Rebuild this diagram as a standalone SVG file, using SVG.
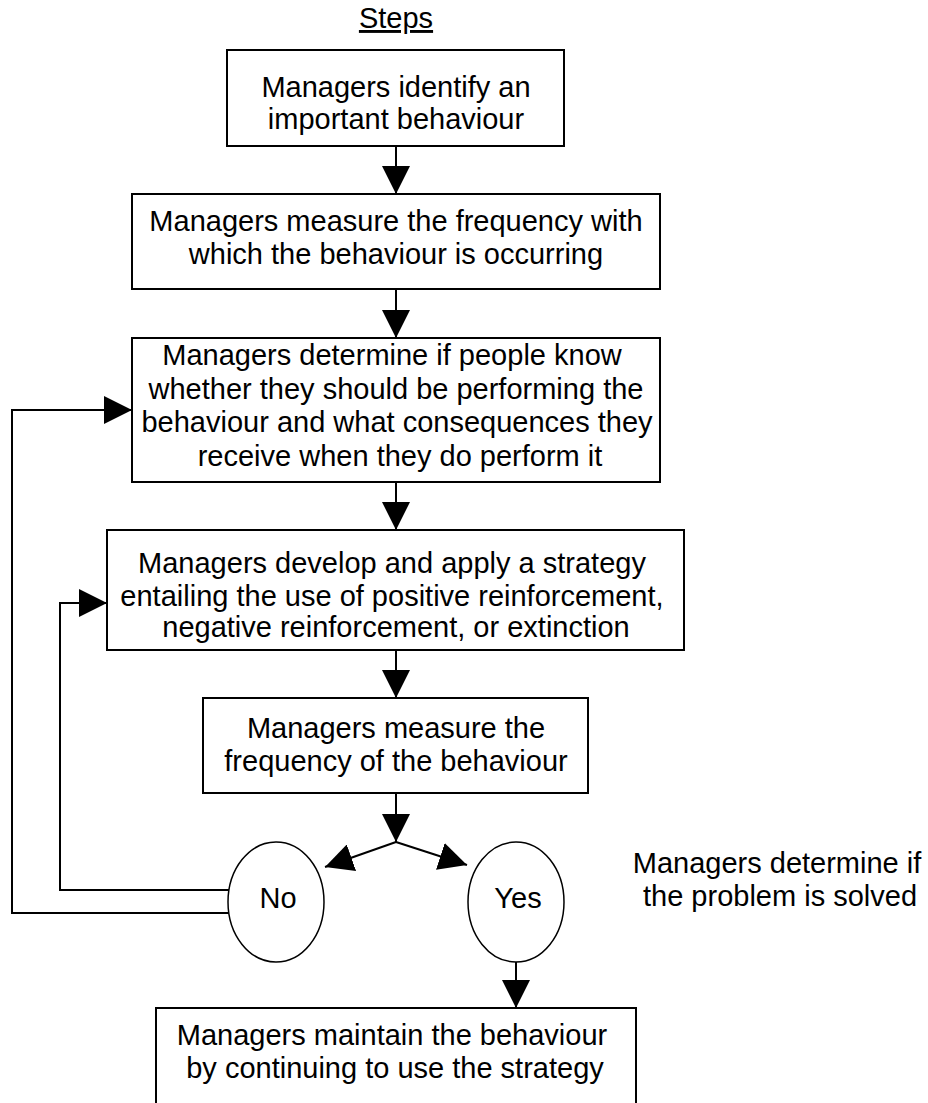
<svg xmlns="http://www.w3.org/2000/svg" width="928" height="1103" viewBox="0 0 928 1103">
  <style>
    text { font-family: "Liberation Sans", Arial, sans-serif; font-size: 29px; fill: #000; }
    .c { text-anchor: middle; }
    .box { fill: #fff; stroke: #000; stroke-width: 2; }
    .oval { fill: #fff; stroke: #000; stroke-width: 1.5; }
    .wire { fill: none; stroke: #000; stroke-width: 2; marker-end: url(#head); }
    .plain { fill: none; stroke: #000; stroke-width: 2; }
  </style>
  <defs>
    <marker id="head" viewBox="0 0 28 28" refX="28" refY="14" markerWidth="28" markerHeight="28" markerUnits="userSpaceOnUse" orient="auto">
      <path d="M0,0 L28,14 L0,28 Z" fill="#000"/>
    </marker>
  </defs>
  <rect width="928" height="1103" fill="#fff"/>

  <text id="title" class="c" x="396" y="28" text-decoration="underline">Steps</text>

  <g id="connectors">
    <path class="wire" d="M396,146 V194"/>
    <path class="wire" d="M396,289 V338"/>
    <path class="wire" d="M396,482 V530"/>
    <path class="wire" d="M396,650 V698"/>
    <path class="wire" d="M396,793 V842"/>
    <path class="wire" d="M396,842 L325,867"/>
    <path class="wire" d="M396,842 L467,865"/>
    <path class="wire" d="M516,962 V1008"/>
    <path class="wire" d="M229,913 H12 V410 H132"/>
    <path class="wire" d="M229,890 H60 V603 H107"/>
  </g>

  <g id="identify">
    <rect class="box" x="227" y="50" width="337" height="96"/>
    <text class="c" x="396" y="97">Managers identify an</text>
    <text class="c" x="396" y="129">important behaviour</text>
  </g>

  <g id="measure-frequency">
    <rect class="box" x="132" y="194" width="528" height="95"/>
    <text class="c" x="396" y="231">Managers measure the frequency with</text>
    <text class="c" x="396" y="264">which the behaviour is occurring</text>
  </g>

  <g id="determine-knowledge">
    <rect class="box" x="132" y="338" width="528" height="144"/>
    <text class="c" x="392" y="365">Managers determine if people know</text>
    <text class="c" x="396" y="399">whether they should be performing the</text>
    <text class="c" x="397" y="432">behaviour and what consequences they</text>
    <text class="c" x="400" y="466">receive when they do perform it</text>
  </g>

  <g id="strategy">
    <rect class="box" x="107" y="530" width="577" height="120"/>
    <text class="c" x="392" y="573">Managers develop and apply a strategy</text>
    <text class="c" x="392" y="606">entailing the use of positive reinforcement,</text>
    <text class="c" x="396" y="637">negative reinforcement, or extinction</text>
  </g>

  <g id="measure-again">
    <rect class="box" x="203" y="698" width="385" height="95"/>
    <text class="c" x="396" y="738">Managers measure the</text>
    <text class="c" x="396" y="771">frequency of the behaviour</text>
  </g>

  <g id="no">
    <ellipse class="oval" cx="276" cy="902" rx="48" ry="60"/>
    <text class="c" x="278" y="908">No</text>
  </g>

  <g id="yes">
    <ellipse class="oval" cx="516" cy="902" rx="48" ry="60"/>
    <text class="c" x="518" y="908">Yes</text>
  </g>

  <g id="solved-label">
    <text class="c" x="777" y="873">Managers determine if</text>
    <text class="c" x="780" y="906">the problem is solved</text>
  </g>

  <g id="maintain">
    <rect class="box" x="156" y="1008" width="480" height="110"/>
    <text class="c" x="392" y="1045">Managers maintain the behaviour</text>
    <text class="c" x="395" y="1078">by continuing to use the strategy</text>
  </g>
</svg>
